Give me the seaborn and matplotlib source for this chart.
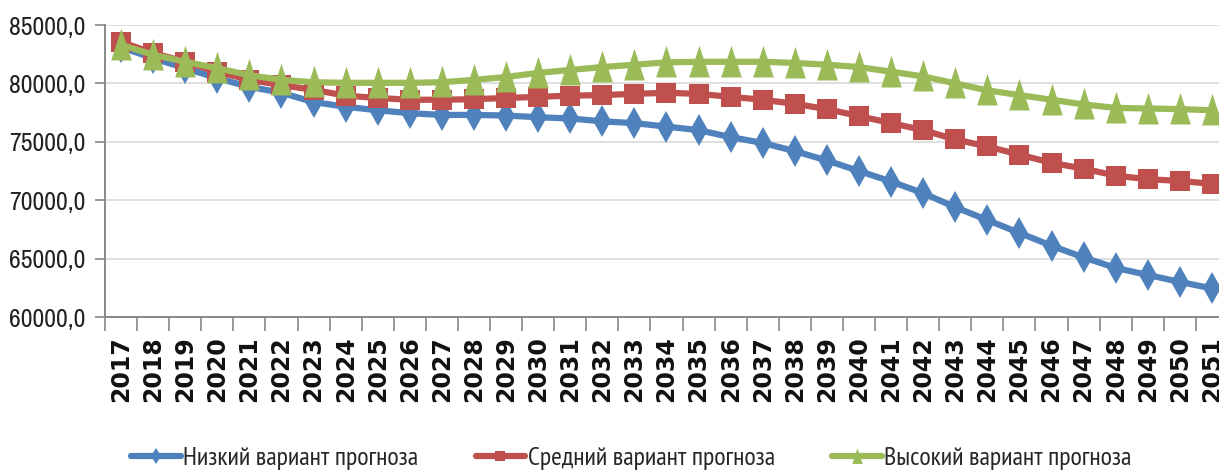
import matplotlib
matplotlib.use("Agg")
import matplotlib.pyplot as plt
from matplotlib import font_manager
from matplotlib.font_manager import FontProperties
from matplotlib.ft2font import FT2Font
import seaborn as sns
import pandas as pd
import numpy as np

years = list(range(2017, 2052))
low = [83100, 82150, 81300, 80450, 79700, 79200, 78400, 78000, 77700, 77450,
       77300, 77300, 77250, 77100, 77000, 76750, 76600, 76300, 76000, 75400,
       74900, 74200, 73400, 72500, 71600, 70600, 69400, 68300, 67200, 66100,
       65100, 64200, 63600, 63000, 62450]
mid = [83550, 82600, 81850, 81000, 80300, 79850, 79450, 78950, 78750, 78600,
       78600, 78650, 78750, 78850, 78950, 79000, 79100, 79200, 79100, 78850,
       78600, 78250, 77800, 77200, 76600, 76000, 75200, 74600, 73900, 73200,
       72700, 72100, 71800, 71650, 71400]
high = [83300, 82450, 81850, 81300, 80700, 80300, 80100, 80050, 80050, 80050,
        80100, 80300, 80550, 80900, 81150, 81400, 81600, 81800, 81850, 81850,
        81850, 81750, 81600, 81400, 81000, 80600, 80000, 79400, 79000, 78600,
        78200, 77900, 77850, 77800, 77700]
series_names = ["Низкий вариант прогноза", "Средний вариант прогноза", "Высокий вариант прогноза"]
y_ticks = [60000, 65000, 70000, 75000, 80000, 85000]

sns.set_theme(style="white")
plt.rcParams['font.family'] = ['Liberation Sans', 'DejaVu Sans']

# look for a narrow / condensed regular font
def score(f):
    n = f.name + " " + f.fname
    if f.style != "normal":
        return None
    if f.weight not in (400, "normal", "regular", "book"):
        return None
    if "Mono" in n or "Serif" in n or "CJK" in n:
        return None
    nl = n.lower().replace(" ", "")
    if "extracondensed" in nl or "ultracondensed" in nl:
        return None
    if "narrow" in nl:
        return 0
    if "semicondensed" in nl or "semi-condensed" in nl:
        return 2
    if "condensed" in nl or f.stretch == "condensed":
        return 1
    return None

def has_cyr(path):
    try:
        cm = FT2Font(path).get_charmap()
        return all(ord(ch) in cm for ch in "НизкийСреднВысокпрогноза")
    except Exception:
        return False

cands = []
for f in font_manager.fontManager.ttflist:
    s = score(f)
    if s is not None:
        cands.append((s, f.fname))
cands.sort()
num_path = cands[0][1] if cands else None
cyr = [c for c in cands if has_cyr(c[1])]
cyr_path = cyr[0][1] if cyr else None

def NUMP(size):
    if num_path:
        return FontProperties(fname=num_path, size=size)
    return FontProperties(family="Liberation Sans", size=size * 0.86)

def CYRP(size):
    if cyr_path:
        return FontProperties(fname=cyr_path, size=size)
    return FontProperties(family=["Liberation Sans", "DejaVu Sans"], size=size * 0.8)

fig = plt.figure(figsize=(12.19, 4.72), dpi=100)
ax = fig.add_axes([105/1219, 155/472, 1123/1219, 292/472])

colors = ["#4F81BD", "#C0504D", "#9BBB59"]
tri = [(0, 1.0), (-0.62, -0.9), (0.62, -0.9)]
markers = ["d", "s", tri]
msizes = [16, 14, 24]

df = pd.DataFrame({"year": years * 3,
                   "value": low + mid + high,
                   "series": [series_names[0]] * len(years) + [series_names[1]] * len(years) + [series_names[2]] * len(years)})

for name, c, m, ms in zip(series_names, colors, markers, msizes):
    sub = df[df["series"] == name]
    sns.lineplot(data=sub, x="year", y="value", ax=ax, color=c, marker=m,
                 markersize=ms, markeredgewidth=0, linewidth=4.5, label=name,
                 clip_on=False)

ax.set_xlim(2016.5, 2051.5)
ax.set_ylim(60000, 85000)
ax.set_yticks(y_ticks)
ax.set_yticklabels([f"{v},0" for v in y_ticks], fontproperties=NUMP(18.5))
ax.yaxis.grid(True, color="#d9d9d9", linewidth=1.2)
ax.xaxis.grid(False)
ax.set_xticks(years)
ax.set_xticklabels([str(y) for y in years], rotation=90, fontsize=17,
                   fontweight="bold", family="DejaVu Sans", va="top")
ax.set_xticks(np.arange(2016.5, 2052, 1.0), minor=True)
ax.tick_params(axis="x", which="major", length=0, pad=14, colors="#111111")
ax.tick_params(axis="x", which="minor", length=10, width=1.2, color="#888888", direction="out", bottom=True)
ax.tick_params(axis="y", length=7, width=1.2, color="#888888", direction="out", left=True, pad=7, colors="#222222")
ax.set_xlabel("")
ax.set_ylabel("")
for s in ["top", "right"]:
    ax.spines[s].set_visible(False)
for s in ["left", "bottom"]:
    ax.spines[s].set_color("#888888")
    ax.spines[s].set_linewidth(1.4)

ax.get_legend().remove()
handles, labels = ax.get_legend_handles_labels()
fig.legend(handles, labels, loc="center", bbox_to_anchor=(0.518, 0.028), ncol=3,
           frameon=False, handlelength=1.9, columnspacing=2.2,
           handletextpad=0.1, markerscale=0.5, borderpad=0.0, prop=CYRP(18.75))

fig.savefig("out.png", dpi=100)
